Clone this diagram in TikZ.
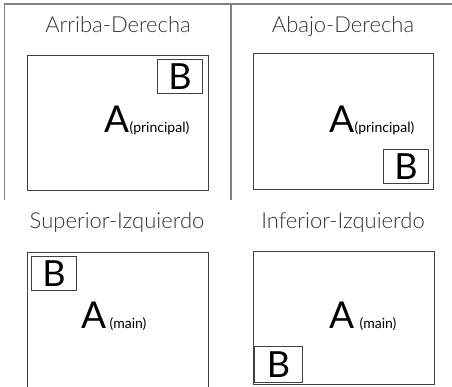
\documentclass[tikz,border=0pt]{standalone}
\usepackage{fontspec}
\setmainfont{Lato}
\newfontfamily\titlefont{Lato Light}
\usetikzlibrary{positioning}
\tikzset{
  frame line/.style={draw=black!50, line width=1.1pt},
  screen/.style={draw=black!75, line width=1pt, inner sep=0pt, anchor=north west},
  pip/.style={draw=black!75, line width=1pt, inner sep=0pt, minimum width=45pt, minimum height=34pt, font=\fontsize{36}{36}\selectfont},
  title/.style={font=\titlefont\fontsize{22}{22}\selectfont, text=black!80, anchor=base, inner sep=0pt},
  bigA/.style={font=\fontsize{37}{37}\selectfont, anchor=base west, inner sep=0pt},
  sub/.style={font=\fontsize{14}{14}\selectfont, anchor=base west, inner sep=0pt},
}

\begin{document}
\begin{tikzpicture}[x=1pt,y=-1pt]
        \useasboundingbox (0,0) rectangle (452,386);
        % Outer frame and divider
        \draw[frame line] (4.5,200) -- (4.5,4) -- (452,4);
        \draw[frame line] (231,4) -- (231,200);
        % Arriba-Derecha
        \node[title] (t1) at (118,32) {Arriba-Derecha};
        \node[screen, minimum width=181pt, minimum height=135pt] (s1) at (27,55) {};
        \node[pip, anchor=north east] (b1) at (203,59) {B};
        \node[bigA] (a1) at (104,132) {A};
        \node[sub] (l1) at (a1.base east) {(principal)};
        % Abajo-Derecha
        \node[title] (t2) at (343,32) {Abajo-Derecha};
        \node[screen, minimum width=180pt, minimum height=136pt] (s2) at (253,53) {};
        \node[pip, anchor=south east] (b2) at (429,184) {B};
        \node[bigA] (a2) at (329,132) {A};
        \node[sub] (l2) at (a2.base east) {(principal)};
        % Superior-Izquierdo
        \node[title] (t3) at (117,228) {Superior-Izquierdo};
        \node[screen, minimum width=181pt, minimum height=142pt] (s3) at (27,252) {};
        \node[pip, anchor=north west] (b3) at (31,256) {B};
        \node[bigA] (a3) at (81,328) {A};
        \node[sub] (l3) at ([xshift=3pt]a3.base east) {(main)};
        % Inferior-Izquierdo
        \node[title] (t4) at (343,228) {Inferior-Izquierdo};
        \node[screen, minimum width=181pt, minimum height=133pt] (s4) at (253,251) {};
        \node[pip, anchor=south west, minimum width=48pt, minimum height=36pt] (b4) at (254,383) {B};
        \node[bigA] (a4) at (329,328) {A};
        \node[sub] (l4) at ([xshift=5pt]a4.base east) {(main)};
\end{tikzpicture}
\end{document}
